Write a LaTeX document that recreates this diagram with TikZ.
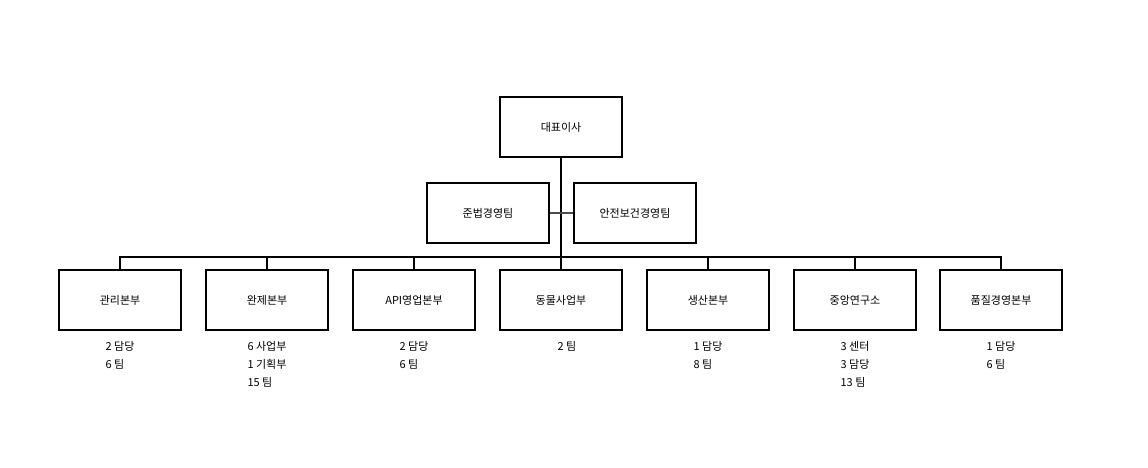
\documentclass[tikz,border=0pt]{standalone}
\usepackage{fontspec}
\setmainfont{Noto Sans CJK KR}
\usetikzlibrary{positioning}
\tikzset{every picture/.style={line width=0.75pt}}
\tikzset{orgbox/.style={draw,line width=1.6pt,minimum width=122pt,minimum height=60pt,inner sep=0pt,font=\fontsize{11}{13}\selectfont},
  notes/.style={anchor=north,align=left,inner sep=0pt,font=\fontsize{11}{18}\selectfont}}
\begin{document}
\begin{tikzpicture}[x=1pt,y=1pt,yscale=-1,xscale=1]
		\useasboundingbox (0,0) rectangle (1148,467);
		
		%Top
		\node [orgbox] (ceo) at (561,127) {대표이사};
		\node [orgbox] (law) at (488,213) {준법경영팀};
		\node [orgbox] (safe) at (635,213) {안전보건경영팀};
		\coordinate (bus) at (561,257);
		
		%Divisions
		\node [orgbox] (d1) at (120,300) {관리본부};
		\node [orgbox] (d2) at (267,300) {완제본부};
		\node [orgbox] (d3) at (414,300) {API영업본부};
		\node [orgbox] (d4) at (561,300) {동물사업부};
		\node [orgbox] (d5) at (708,300) {생산본부};
		\node [orgbox] (d6) at (855,300) {중앙연구소};
		\node [orgbox] (d7) at (1001,300) {품질경영본부};
		
		\draw [line width=1.6pt] (ceo.south) -- (bus) ;
		\draw [line width=1.2pt,black!70] (law.east) -- (safe.west) ;
		\draw [line width=1.2pt] (d1.north) |- (bus) -| (d7.north) ;
		\foreach \i in {2,...,6} { \draw [line width=1.2pt] (d\i.north) -- (d\i.north |- bus) ; }
		
		%Notes
		\node [notes] (n1) at (120,341) {2 담당\\6 팀};
		\node [notes] (n2) at (267,341) {6 사업부\\1 기획부\\15 팀};
		\node [notes] (n3) at (414,341) {2 담당\\6 팀};
		\node [notes] (n4) at (567,341) {2 팀};
		\node [notes] (n5) at (708,341) {1 담당\\8 팀};
		\node [notes] (n6) at (855,341) {3 센터\\3 담당\\13 팀};
		\node [notes] (n7) at (1001,341) {1 담당\\6 팀};
		
\end{tikzpicture}
\end{document}
